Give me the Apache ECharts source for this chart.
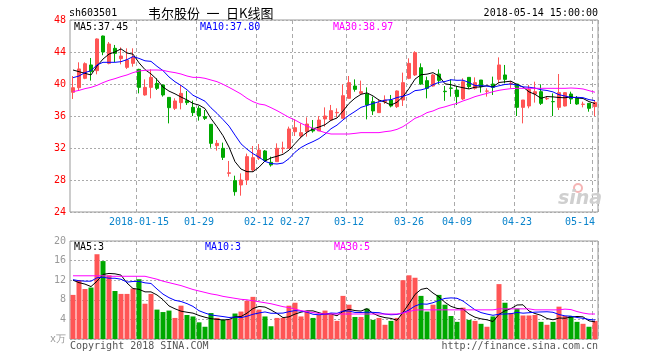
<!DOCTYPE html>
<html><head><meta charset="utf-8">
<script src="https://cdn.jsdelivr.net/npm/echarts@6/dist/echarts.min.js"></script>
<style>html,body{margin:0;padding:0;background:#fff}#c{width:660px;height:360px}</style>
</head><body><div id="c"></div>
<script>
const dates = ['2017-12-28','2017-12-29','2018-01-02','2018-01-03','2018-01-04','2018-01-05','2018-01-08','2018-01-09','2018-01-10','2018-01-11',
'2018-01-12','2018-01-15','2018-01-16','2018-01-17','2018-01-18','2018-01-19','2018-01-22','2018-01-23','2018-01-24','2018-01-25',
'2018-01-26','2018-01-29','2018-01-30','2018-01-31','2018-02-01','2018-02-02','2018-02-05','2018-02-06','2018-02-07','2018-02-08',
'2018-02-09','2018-02-12','2018-02-13','2018-02-14','2018-02-22','2018-02-23','2018-02-26','2018-02-27','2018-02-28','2018-03-01',
'2018-03-02','2018-03-05','2018-03-06','2018-03-07','2018-03-08','2018-03-09','2018-03-12','2018-03-13','2018-03-14','2018-03-15',
'2018-03-16','2018-03-19','2018-03-20','2018-03-21','2018-03-22','2018-03-23','2018-03-26','2018-03-27','2018-03-28','2018-03-29',
'2018-03-30','2018-04-02','2018-04-03','2018-04-04','2018-04-09','2018-04-10','2018-04-11','2018-04-12','2018-04-13','2018-04-16',
'2018-04-17','2018-04-18','2018-04-19','2018-04-20','2018-04-23','2018-04-24','2018-04-25','2018-04-26','2018-04-27','2018-05-02',
'2018-05-03','2018-05-04','2018-05-07','2018-05-08','2018-05-09','2018-05-10','2018-05-11','2018-05-14'];

const opens = [38.96,39.54,40.71,42.38,41.67,46.0,42.58,44.46,43.17,42.08,
42.58,41.83,38.63,39.58,40.08,39.88,38.33,36.96,37.67,37.92,
37.08,36.96,35.92,34.96,32.29,31.96,28.83,27.92,27.38,28.0,
29.25,30.71,31.63,30.21,30.29,31.92,31.96,34.04,33.5,34.04,
34.46,34.13,35.63,35.5,36.4,35.71,38.21,39.75,38.83,38.75,
37.79,36.42,37.79,38.0,37.17,38.0,40.71,41.13,42.04,40.42,
39.75,41.25,39.1,39.5,39.25,38.13,40.83,39.46,40.5,39.1,
40.0,40.58,41.13,40.05,40.0,37.08,37.25,38.75,39.04,38.15,
37.8,37.08,37.25,38.75,38.21,37.45,37.58,37.17];

const closes = [39.54,41.88,42.54,41.54,45.63,44.0,45.0,43.83,43.5,43.0,
43.33,39.58,39.58,40.83,39.46,38.63,37.04,37.88,38.83,37.67,
36.42,36.0,35.71,32.58,32.58,30.83,28.9,26.54,28.0,30.92,
30.79,31.75,30.45,29.88,31.96,32.0,34.38,34.54,33.92,35.0,
34.13,35.5,36.0,36.67,36.45,38.54,40.17,39.33,39.04,37.38,
36.63,37.58,38.0,37.25,39.13,40.17,42.58,43.92,40.0,39.46,
41.13,40.45,39.04,39.46,38.42,40.29,39.67,40.17,39.67,39.13,
39.58,42.38,40.58,40.1,37.08,38.0,39.33,39.04,37.58,38.2,
37.79,38.92,38.92,38.13,37.5,37.48,36.96,37.7];

const lows = [38.13,39.25,40.6,40.42,41.21,43.6,42.46,42.75,42.46,41.88,
42.17,38.83,38.54,38.21,39.25,38.42,35.08,36.75,36.83,37.38,
36.0,35.42,35.5,32.04,31.67,30.5,28.42,26.04,26.04,27.38,
29.04,30.5,30.25,29.67,30.29,31.33,31.96,33.5,33.21,33.42,
33.92,34.13,34.67,35.5,35.83,35.71,38.21,39.04,38.83,35.58,
36.13,36.42,37.5,37.08,37.0,37.25,40.6,41.0,39.9,38.21,
39.67,40.0,37.9,38.42,37.38,38.0,39.4,39.3,38.92,38.42,
38.63,40.1,40.08,39.5,36.0,35.08,36.96,37.67,37.38,38.0,
36.0,36.75,37.2,37.5,37.4,37.08,36.54,36.0];

const highs = [41.0,42.71,42.71,43.25,45.7,46.05,45.25,44.88,44.58,44.46,
44.46,41.9,40.58,41.83,40.71,39.95,38.33,38.21,39.88,39.13,
37.92,37.25,36.75,34.96,33.0,32.67,30.38,28.54,28.83,31.3,
32.25,32.5,31.75,30.92,32.58,32.79,34.67,35.58,35.08,35.83,
35.5,36.0,37.08,37.38,36.96,39.96,41.0,40.58,40.42,39.58,
38.42,38.08,38.58,38.63,39.2,41.42,43.21,44.1,42.58,40.92,
41.25,41.83,39.75,40.58,39.75,40.71,40.83,40.83,40.5,39.46,
40.92,43.33,42.38,40.4,40.0,38.0,39.88,40.29,39.96,38.5,
38.83,41.25,39.0,39.04,38.5,37.79,37.6,37.95];

const ma5 = [41.75,41.54,41.33,41.13,42.23,43.12,43.74,44.0,44.39,43.87,
43.73,42.65,41.8,41.26,40.56,39.62,39.11,38.77,38.37,38.01,
37.57,37.36,36.93,35.68,34.66,33.54,32.12,30.29,29.37,29.04,
29.03,29.6,30.38,30.76,30.97,31.21,31.73,32.55,33.36,33.97,
34.39,34.62,34.91,35.46,35.75,36.63,37.57,38.23,38.71,38.89,
38.51,37.99,37.73,37.37,37.72,38.43,39.43,40.61,41.16,41.23,
41.42,40.99,40.02,39.91,39.7,39.53,39.38,39.6,39.64,39.79,
39.64,40.19,40.27,40.35,39.94,39.63,39.02,38.71,38.21,38.43,
38.39,38.31,38.28,38.39,38.25,38.19,37.8,37.55];

const ma10 = [40.79,41.0,41.42,41.67,42.38,42.71,42.71,42.71,42.79,43.05,
43.43,43.2,42.9,42.83,42.21,41.67,40.88,40.28,39.82,39.28,
38.59,38.23,37.85,37.02,36.33,35.55,34.74,33.61,32.52,31.85,
31.29,30.86,30.33,30.06,30.0,30.12,30.67,31.47,32.06,32.47,
32.8,33.18,33.73,34.41,34.86,35.51,36.09,36.57,37.08,37.32,
37.57,37.78,37.98,38.04,38.31,38.47,38.71,39.17,39.26,39.47,
39.92,40.21,40.31,40.53,40.46,40.48,40.18,39.81,39.78,39.74,
39.59,39.78,39.94,40.0,39.87,39.64,39.6,39.49,39.28,39.19,
39.01,38.66,38.5,38.3,38.34,38.29,38.05,37.92];

const ma30 = [39.04,39.2,39.42,39.58,39.83,40.17,40.46,40.67,40.92,41.13,
41.42,41.63,41.71,41.75,41.75,41.71,41.54,41.42,41.25,41.0,
40.83,40.83,40.71,40.5,40.29,39.96,39.58,39.17,38.75,38.21,
37.79,37.5,37.38,37.04,36.67,36.25,35.83,35.5,35.08,34.75,
34.46,34.17,33.92,33.75,33.75,33.75,33.75,33.83,33.92,33.92,
33.92,33.92,34.04,34.13,34.33,34.67,35.17,35.71,36.0,36.42,
36.63,36.96,37.15,37.38,37.58,37.88,38.13,38.42,38.63,38.83,
39.04,39.21,39.33,39.42,39.46,39.46,39.46,39.46,39.46,39.46,
39.46,39.46,39.46,39.5,39.46,39.38,39.17,38.97];

const volumes = [9.0,12.0,10.2,10.5,17.3,15.9,13.0,9.8,9.2,9.2,
10.3,12.2,7.2,9.2,6.0,5.5,5.8,4.3,6.8,4.9,
4.6,3.4,2.5,5.3,4.3,3.9,3.9,5.2,5.6,7.8,
8.6,6.0,4.6,2.6,4.3,4.3,6.8,7.4,4.6,5.6,
4.3,4.9,5.8,5.0,3.7,8.8,7.0,4.5,4.5,6.2,
3.9,4.3,2.9,3.7,4.3,12.0,13.0,12.5,8.8,5.6,
7.0,9.0,7.0,4.7,3.5,6.4,3.9,3.7,3.1,2.5,
4.6,11.2,7.4,5.3,6.2,4.8,4.8,4.9,3.5,2.9,
3.5,6.6,4.7,4.7,3.5,3.1,2.5,3.7];

const volMa5 = [12.0,11.5,11.2,10.7,11.8,13.18,13.38,13.3,13.04,11.42,
10.3,10.14,9.62,9.62,8.98,8.02,6.74,6.16,5.68,5.46,
5.28,4.8,4.44,4.14,4.02,3.88,3.98,4.52,4.58,5.28,
6.22,6.64,6.52,5.92,5.22,4.36,4.52,5.08,5.48,5.74,
5.74,5.36,5.04,5.12,4.74,5.64,6.06,5.8,5.7,6.2,
5.22,4.68,4.36,4.2,3.82,5.44,7.18,9.1,10.12,10.38,
9.38,8.58,7.48,6.66,6.24,6.12,5.1,4.44,4.12,3.92,
3.56,5.02,5.76,6.2,6.94,6.98,5.7,5.2,4.84,4.18,
3.92,4.28,4.24,4.48,4.6,4.52,3.7,3.5];

const volMa10 = [12.1,11.9,11.8,11.8,12.5,12.6,12.4,12.4,12.2,11.61,
11.74,11.76,11.46,11.33,10.2,9.16,8.44,7.89,7.65,7.22,
6.65,5.77,5.3,4.91,4.74,4.58,4.39,4.48,4.36,4.65,
5.05,5.31,5.52,5.25,5.25,5.29,5.58,5.8,5.7,5.48,
5.05,4.94,5.06,5.3,5.24,5.69,5.71,5.42,5.41,5.47,
5.43,5.37,5.08,4.95,5.01,5.33,5.93,6.73,7.16,7.1,
7.41,7.88,8.29,8.39,8.31,7.75,6.84,5.96,5.39,5.08,
4.84,5.06,5.1,5.16,5.43,5.27,5.36,5.48,5.52,5.56,
5.45,4.99,4.72,4.66,4.39,4.22,3.99,3.87];

const volMa30 = [12.9,12.9,12.9,12.9,12.9,12.9,12.8,12.8,12.8,12.8,
12.8,12.8,12.8,12.5,12.2,11.8,11.5,11.2,10.9,10.5,
10.1,9.8,9.5,9.2,9.0,8.7,8.5,8.3,8.1,8.0,
7.8,7.6,7.4,7.2,6.9,6.6,6.4,6.1,5.8,5.6,
5.4,5.2,5.1,5.1,5.1,5.1,5.1,5.1,5.1,5.1,
5.1,5.1,5.1,5.1,5.1,5.3,5.6,5.9,5.95,5.95,
5.95,5.95,5.95,5.95,5.95,5.95,5.95,5.95,5.95,5.95,
5.95,6.15,6.15,6.15,6.15,6.15,6.15,5.95,5.95,5.95,
5.95,5.95,6.1,6.0,5.6,5.3,5.1,5.1];

const tickDates = ['2018-01-15','2018-01-29','2018-02-12','2018-02-27','2018-03-12','2018-03-26','2018-04-09','2018-04-23','2018-05-14'];
const tickLabels = ['2018-01-15','01-29','02-12','02-27','03-12','03-26','04-09','04-23','05-14'];

const priceAxis = {min: 24, max: 48, step: 4};
const volAxis = {min: 0, max: 20, step: 4};

const legendMain = ['MA5:37.45', 'MA10:37.80', 'MA30:38.97'];
const legendVol = ['MA5:3', 'MA10:3', 'MA30:5'];

const RED = '#ff5555', GREEN = '#00a800';
const MONO = '"DejaVu Sans Mono", monospace';
const tickSet = new Set(tickDates);
const labelOf = {};
tickDates.forEach((d, i) => { labelOf[d] = tickLabels[i]; });

const chart = echarts.init(document.getElementById('c'), null, {renderer: 'canvas'});

function txt(x, y, text, color, extra) {
  return {
    type: 'text', x: x, y: y, silent: true, z: 100,
    style: Object.assign({
      text: text, fill: color, font: '10px ' + MONO,
      align: 'left', verticalAlign: 'middle', textAlign: 'left', textVerticalAlign: 'middle'
    }, extra || {})
  };
}

const vSplit = {show: true, interval: (i, v) => tickSet.has(v), lineStyle: {color: '#aaaaaa', width: 1, type: [4, 3]}};
const hSplit = {show: true, lineStyle: {color: '#aaaaaa', width: 1, type: [2, 2]}};

const option = {
  animation: false,
  backgroundColor: '#ffffff',
  grid: [
    {left: 70, top: 20, width: 528, height: 192, show: true, borderColor: '#999999', borderWidth: 1, backgroundColor: 'transparent', outerBoundsMode: 'none', containLabel: false},
    {left: 70, top: 241, width: 528, height: 98, show: true, borderColor: '#999999', borderWidth: 1, backgroundColor: 'transparent', outerBoundsMode: 'none', containLabel: false}
  ],
  xAxis: [
    {type: 'category', gridIndex: 0, data: dates, boundaryGap: true,
     axisLine: {show: false}, axisTick: {show: false},
     axisLabel: {show: true, interval: (i, v) => tickSet.has(v), formatter: v => labelOf[v] || '',
       color: '#0a84cc', fontFamily: MONO, fontSize: 10, margin: 5, alignMaxLabel: 'right', hideOverlap: false},
     splitLine: vSplit},
    {type: 'category', gridIndex: 1, data: dates, boundaryGap: true,
     axisLine: {show: false}, axisTick: {show: false}, axisLabel: {show: false},
     splitLine: vSplit}
  ],
  yAxis: [
    {type: 'value', gridIndex: 0, min: priceAxis.min, max: priceAxis.max, interval: priceAxis.step, scale: false,
     axisLine: {show: false}, axisTick: {show: false},
     axisLabel: {color: '#ff0000', fontFamily: MONO, fontSize: 10, margin: 4, showMinLabel: true, showMaxLabel: true},
     splitLine: hSplit},
    {type: 'value', gridIndex: 1, min: volAxis.min, max: volAxis.max, interval: volAxis.step,
     axisLine: {show: false}, axisTick: {show: false},
     axisLabel: {color: '#999999', fontFamily: MONO, fontSize: 10, margin: 4, showMinLabel: true, showMaxLabel: true,
       formatter: v => v === 0 ? 'x万' : String(v)},
     splitLine: hSplit}
  ],
  series: [
    {type: 'candlestick', name: 'K', xAxisIndex: 0, yAxisIndex: 0, barWidth: 4, z: 2,
     data: dates.map((d, i) => [opens[i], closes[i], lows[i], highs[i]]),
     itemStyle: {color: RED, color0: GREEN, borderColor: RED, borderColor0: GREEN, borderWidth: 1}},
    {type: 'line', name: 'MA5', xAxisIndex: 0, yAxisIndex: 0, data: ma5, symbol: 'none', showSymbol: false, z: 3,
     lineStyle: {color: '#000000', width: 1}, itemStyle: {color: '#000000'}},
    {type: 'line', name: 'MA10', xAxisIndex: 0, yAxisIndex: 0, data: ma10, symbol: 'none', showSymbol: false, z: 3,
     lineStyle: {color: '#0000ff', width: 1}, itemStyle: {color: '#0000ff'}},
    {type: 'line', name: 'MA30', xAxisIndex: 0, yAxisIndex: 0, data: ma30, symbol: 'none', showSymbol: false, z: 3,
     lineStyle: {color: '#ff00ff', width: 1}, itemStyle: {color: '#ff00ff'}},
    {type: 'bar', name: 'VOL', xAxisIndex: 1, yAxisIndex: 1, barWidth: 5, z: 2,
     data: volumes.map((v, i) => ({value: v, itemStyle: {color: closes[i] >= opens[i] ? RED : GREEN}}))},
    {type: 'line', name: 'VMA5', xAxisIndex: 1, yAxisIndex: 1, data: volMa5, symbol: 'none', showSymbol: false, z: 3,
     lineStyle: {color: '#000000', width: 1}},
    {type: 'line', name: 'VMA10', xAxisIndex: 1, yAxisIndex: 1, data: volMa10, symbol: 'none', showSymbol: false, z: 3,
     lineStyle: {color: '#0000ff', width: 1}},
    {type: 'line', name: 'VMA30', xAxisIndex: 1, yAxisIndex: 1, data: volMa30, symbol: 'none', showSymbol: false, z: 3,
     lineStyle: {color: '#ff00ff', width: 1}}
  ],
  graphic: [
    txt(69, 13, 'sh603501', '#000000'),
    txt(148, 13, '韦尔股份\u2002一\u2002日K线图', '#000000', {font: '13px "Noto Sans CJK SC", sans-serif'}),
    txt(598, 13, '2018-05-14 15:00:00', '#000000', {align: 'right', textAlign: 'right'}),
    txt(74, 27, legendMain[0], '#000000'),
    txt(200, 27, legendMain[1], '#0000ff'),
    txt(333, 27, legendMain[2], '#ff00ff'),
    txt(74, 247, legendVol[0], '#000000'),
    txt(205, 247, legendVol[1], '#0000ff'),
    txt(334, 247, legendVol[2], '#ff00ff'),
    txt(70, 346, 'Copyright 2018 SINA.COM', '#555555'),
    txt(598, 346, 'http://finance.sina.com.cn', '#555555', {align: 'right', textAlign: 'right'}),
    {type: 'circle', silent: true, z: 1, shape: {cx: 578, cy: 188, r: 4}, style: {fill: 'none', stroke: '#f5b5b5', lineWidth: 2}},
    txt(580, 199, 'sina', '#cfcfcf', {font: 'italic bold 19px "DejaVu Sans", sans-serif', align: 'center', textAlign: 'center'})
  ]
};
chart.setOption(option);
</script>
</body></html>
